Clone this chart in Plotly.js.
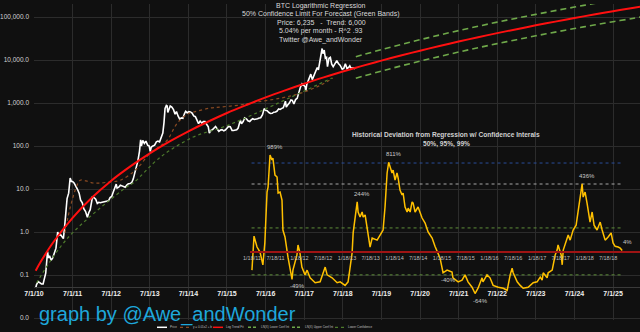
<!DOCTYPE html>
<html><head><meta charset="utf-8">
<script src="https://cdn.plot.ly/plotly-3.0.1.min.js"></script>
<style>html,body{margin:0;padding:0;background:#101010;}#chart{width:640px;height:332px;}</style>
</head><body><div id="chart"></div>
<script>
// ---------- main chart data ----------
const priceDates = ['2010-07-17','2010-07-25','2010-08-10','2010-08-25','2010-09-10','2010-09-25','2010-10-10','2010-10-20','2010-11-06','2010-11-15','2010-11-25','2010-12-10','2010-12-25','2011-01-10','2011-01-25','2011-02-10','2011-02-20','2011-03-05','2011-03-20','2011-04-05','2011-04-15','2011-04-28','2011-05-10','2011-05-25','2011-06-08','2011-06-20','2011-07-01','2011-07-15','2011-08-01','2011-08-15','2011-09-01','2011-09-15','2011-10-01','2011-10-15','2011-11-01','2011-11-18','2011-12-01','2011-12-15','2012-01-05','2012-01-20','2012-02-05','2012-02-20','2012-03-05','2012-03-20','2012-04-05','2012-04-20','2012-05-05','2012-05-20','2012-06-05','2012-06-20','2012-07-05','2012-07-20','2012-08-05','2012-08-17','2012-08-25','2012-09-10','2012-09-25','2012-10-10','2012-10-25','2012-11-10','2012-11-25','2012-12-10','2012-12-25','2013-01-10','2013-01-25','2013-02-10','2013-02-25','2013-03-10','2013-03-25','2013-04-05','2013-04-12','2013-04-25','2013-05-10','2013-05-25','2013-06-10','2013-06-25','2013-07-05','2013-07-15','2013-07-30','2013-08-15','2013-09-01','2013-09-15','2013-10-01','2013-10-15','2013-11-01','2013-11-12','2013-11-22','2013-12-04','2013-12-12','2013-12-18','2013-12-30','2014-01-10','2014-01-25','2014-02-10','2014-02-25','2014-03-10','2014-03-25','2014-04-10','2014-04-25','2014-05-10','2014-05-25','2014-06-05','2014-06-20','2014-07-05','2014-07-20','2014-08-05','2014-08-20','2014-09-05','2014-09-20','2014-10-05','2014-10-20','2014-11-05','2014-11-20','2014-12-05','2014-12-20','2015-01-05','2015-01-15','2015-01-30','2015-02-15','2015-03-01','2015-03-15','2015-04-01','2015-04-15','2015-05-01','2015-05-15','2015-06-01','2015-06-15','2015-07-01','2015-07-15','2015-08-01','2015-08-18','2015-09-01','2015-09-15','2015-10-01','2015-10-15','2015-11-04','2015-11-15','2015-12-01','2015-12-15','2016-01-01','2016-01-15','2016-02-01','2016-02-15','2016-03-01','2016-03-15','2016-04-01','2016-04-15','2016-05-01','2016-05-15','2016-06-01','2016-06-17','2016-07-01','2016-07-15','2016-08-01','2016-08-15','2016-09-01','2016-09-15','2016-10-01','2016-10-15','2016-11-01','2016-11-15','2016-12-01','2016-12-15','2017-01-04','2017-01-12','2017-01-25','2017-02-10','2017-02-25','2017-03-10','2017-03-25','2017-04-10','2017-04-25','2017-05-10','2017-05-25','2017-06-10','2017-06-25','2017-07-10','2017-07-16','2017-07-25','2017-08-10','2017-08-25','2017-09-01','2017-09-15','2017-10-01','2017-10-15','2017-11-01','2017-11-12','2017-11-26','2017-12-08','2017-12-17','2017-12-25','2018-01-06','2018-01-17','2018-01-28','2018-02-06','2018-02-20','2018-03-05','2018-03-18','2018-04-01','2018-04-12','2018-04-25','2018-05-05','2018-05-20','2018-06-05','2018-06-25','2018-07-10','2018-07-25','2018-08-10','2018-08-25','2018-09-05','2018-09-15','2018-10-01','2018-10-15','2018-10-25'];
const priceValues = [0.05,0.06,0.07,0.065,0.062,0.062,0.1,0.11,0.35,0.25,0.28,0.22,0.25,0.32,0.42,1.0,0.85,0.9,0.78,0.7,1.2,3.0,6,8,18,15,15,13.8,12,10,8,5.5,4.8,3.5,3.0,2.2,2.8,3.3,6.5,6.3,5.8,4.6,4.9,4.8,4.9,5.0,5.1,5.1,5.3,6.3,6.7,8.5,10.8,13,10.5,11,12.3,11.8,11,11,12.3,13.3,13.4,14,17,24,30,45,75,140,100,135,115,130,105,100,75,95,100,105,125,130,125,150,200,350,750,880,850,600,700,850,800,700,550,630,500,420,450,440,570,640,590,630,620,580,500,480,400,330,380,340,370,370,320,280,200,230,240,260,285,245,220,235,240,225,235,260,285,280,230,230,230,238,262,400,330,370,450,430,385,370,405,430,415,418,430,450,455,535,740,675,665,600,570,575,610,615,640,730,710,750,780,1100,800,900,1000,1180,1150,950,1200,1280,1750,2300,2800,2550,2400,1900,2700,3400,4300,4700,3500,4400,5700,6700,5900,9300,16000,18500,14000,17000,11000,11500,7000,11000,11500,8000,7000,7900,9300,9700,8300,7600,6100,6400,8200,6300,6700,7300,6500,6600,6500,6235];

const trendDates = ['2010-07-17','2010-09-01','2011-01-01','2011-07-01','2012-01-01','2012-07-01','2013-01-01','2013-07-01','2014-01-01','2014-07-01','2015-01-01','2015-07-01','2016-01-01','2016-07-01','2017-01-01','2017-07-01','2018-01-01','2018-07-01','2018-11-01','2019-01-01','2019-07-01','2020-01-01','2020-07-01','2021-01-01','2021-07-01','2022-01-01','2022-07-01','2023-01-01','2023-07-01','2024-01-01','2024-07-01','2025-01-01','2025-07-01','2026-01-01','2026-04-01'];
const trendValues = [0.126,0.20,0.585,2.14,6.32,15.6,34.0,67.5,126,219,366,585,900,1349,1972,2811,3934,5395,6622,7290,9680,12740,16480,21180,26850,33830,42170,52120,63970,78140,94630,114300,136100,162600,177000];

const smaDates = ['2011-04-20','2011-05-18','2011-06-27','2011-08-13','2011-09-11','2011-11-06','2012-01-12','2012-03-17','2012-06-20','2012-09-24','2013-01-25','2013-04-01','2013-07-05','2013-10-09','2013-12-14','2014-03-19','2014-06-22','2014-08-17','2015-01-26','2015-05-01','2015-11-06','2016-02-09','2016-11-21','2017-05-30','2017-12-04','2018-03-28'];
const smaValues = [0.95,2.2,5.5,12.4,16,15.4,13.8,13.8,14.6,16,24.8,36,69,100,138,343,555,615,765,807,900,1000,1300,1700,2600,3800];

const lowerConfDates = ['2010-07-25','2011-05-15','2012-11-25','2013-01-25','2013-10-09','2014-08-17','2015-05-01','2015-11-06','2018-03-20'];
const lowerConfValues = [0.065,0.72,11.2,13.8,55,162,263,400,3800];

const bandDates = ['2018-11-01','2019-01-01','2019-07-01','2020-01-01','2020-07-01','2021-01-01','2021-07-01','2022-01-01','2022-07-01','2023-01-01','2023-07-01','2024-01-01','2024-07-01','2025-01-01','2025-07-01','2026-01-01','2026-04-01'];
const bandUpper = [11900,13120,17420,22930,29660,38120,48330,60890,75900,93820,115100,140700,170300,205700,245000,292700,318600];
const bandLower = [3775,4155,5520,7260,9390,12070,15300,19280,24040,29710,36460,44540,53940,65150,77580,92680,100900];

const yTickVals = [0.01,0.1,1,10,100,1000,10000,100000];
const yTickText = ['0.0','0.1','1.0','10.0','100.0','1,000.0','10,000.0','100,000.0'];

const seriesNames = ['Price','y = 0.01x2 + b','Log Trend Fit','LN(X) Lower Conf Int','LN(X) Upper Conf Int','Lower Confidence'];

const titleLines = ['BTC Logarithmic Regression','50% Confidence Limit For Forecast (Green Bands)','Price: 6,235   -  Trend: 6,000','5.04% per month - R^2 .93','Twitter @Awe_andWonder'];

// ---------- inset: deviation from regression ----------
const devDates = ['2011-01-18','2011-02-03','2011-02-26','2011-03-21','2011-04-12','2011-04-27','2011-05-14','2011-05-22','2011-06-06','2011-06-21','2011-06-28','2011-07-14','2011-07-30','2011-08-07','2011-08-22','2011-09-06','2011-09-13','2011-09-29','2011-10-22','2011-11-22','2011-11-29','2011-12-30','2012-01-07','2012-01-22','2012-02-06','2012-03-01','2012-03-17','2012-04-09','2012-05-18','2012-06-25','2012-08-03','2012-08-18','2012-09-25','2012-11-03','2012-11-26','2013-01-03','2013-01-26','2013-02-26','2013-03-06','2013-03-21','2013-04-06','2013-04-13','2013-04-28','2013-05-14','2013-05-22','2013-06-06','2013-06-21','2013-07-14','2013-07-30','2013-09-06','2013-09-29','2013-10-22','2013-11-06','2013-11-22','2013-12-04','2013-12-30','2014-01-07','2014-01-22','2014-02-06','2014-02-15','2014-03-01','2014-03-17','2014-03-25','2014-04-09','2014-04-25','2014-05-03','2014-05-18','2014-06-02','2014-06-10','2014-06-25','2014-07-18','2014-08-18','2014-09-10','2014-10-03','2014-11-03','2014-11-25','2015-01-03','2015-01-26','2015-02-26','2015-04-05','2015-04-12','2015-05-22','2015-06-21','2015-07-14','2015-08-06','2015-09-06','2015-09-29','2015-10-22','2015-11-22','2015-11-29','2015-12-30','2016-01-22','2016-02-15','2016-03-25','2016-05-03','2016-06-02','2016-06-25','2016-07-10','2016-07-18','2016-08-18','2016-09-10','2016-10-03','2016-11-10','2016-12-19','2017-01-18','2017-02-11','2017-02-26','2017-03-06','2017-04-05','2017-04-13','2017-05-14','2017-06-06','2017-06-21','2017-06-28','2017-07-22','2017-07-30','2017-08-07','2017-08-30','2017-09-14','2017-09-29','2017-10-22','2017-11-14','2017-11-22','2017-12-07','2017-12-30','2018-01-07','2018-01-22','2018-02-06','2018-02-15','2018-03-01','2018-03-17','2018-04-01','2018-04-24','2018-05-18','2018-06-02','2018-06-25','2018-07-18','2018-08-10','2018-08-25','2018-09-10','2018-10-03','2018-10-19','2018-11-03'];
const devPct = [-36,48,13,0,-27,25,338,395,989,864,912,566,534,328,338,260,72,45,-12,-49,-36,-7,19,-2,-31,-43,-36,-47,-53,-52,-31,-43,-47,-53,-52,-56,-52,-2,60,120,244,168,137,168,137,149,81,13,41,34,52,72,203,600,811,600,653,489,600,518,360,307,328,203,168,195,168,243,234,168,203,131,104,64,41,15,-14,-40,-36,-39,-47,-52,-50,-43,-52,-58,-64,-59,-47,-52,-43,-47,-56,-58,-59,-61,-43,-33,-40,-52,-56,-59,-58,-53,-52,-46,-50,-40,-47,-40,-36,-7,5,19,-7,-27,5,34,52,34,72,94,137,234,436,287,338,234,181,109,168,94,72,109,72,34,45,60,25,15,13,10,4];
const labeledPct = [989,-49,244,811,-40,-64,436,4];

const confDates = ['2011-01-15','2018-11-05'];
const confNames = ['99%','95%','50% upper','50% lower'];
const confPct = [795,434,81,-43];

const insetTitle = ['Historical Deviation from Regression w/ Confidence Interals','50%, 95%, 99%'];

// ---------- styles ----------
const F = 'Liberation Sans, Arial, sans-serif';
const W = 640, H = 332;
const seriesLines = [
  {color:'#ffffff', width:1.6},
  {color:'#8a4a22', width:1.2, dash:'dot', shape:'spline'},
  {color:'#ff1010', width:2, shape:'spline'},
  {color:'#6fa84a', width:1.6, dash:'6px,4px', shape:'spline'},
  {color:'#6fa84a', width:1.6, dash:'6px,4px', shape:'spline'},
  {color:'#4d7a2c', width:1.2, dash:'dot', shape:'spline'}
];
const confColors = ['#2a4d9a','#a6a6a6','#5f8f3a','#5f8f3a'];
// legend layout (pixel x of swatch start, swatch length)
const legendX = [157,180,213,248,292,335];
const legendSwatch = 10, legendY = 327.3;

// ---------- build ----------
const toRatio = p => 1 + p/100;
const mainX = [priceDates, smaDates, trendDates, bandDates, bandDates, lowerConfDates];
const mainY = [priceValues, smaValues, trendValues, bandLower, bandUpper, lowerConfValues];
const traces = mainX.map((xs,i) => ({x: xs, y: mainY[i], name: seriesNames[i], type:'scatter', mode:'lines', showlegend:false, line: seriesLines[i]}));
confPct.forEach((p,i) => traces.push({x: confDates, y: confDates.map(() => toRatio(p)), name: confNames[i], xaxis:'x2', yaxis:'y2', type:'scatter', mode:'lines', showlegend:false, line:{color:confColors[i], width:1, dash:'dot'}}));
traces.push({x: devDates, y: devPct.map(toRatio), name:'Deviation', xaxis:'x2', yaxis:'y2', type:'scatter', mode:'lines', showlegend:false, line:{color:'#ffc000', width:1.5}});

const annotations = [];
const shapes = [];
const titleY = [6, 14.5, 23, 31.5, 39.5];
titleLines.forEach((t,i) => annotations.push({text:t, xref:'paper', yref:'paper', x:321/W, y:1-titleY[i]/H, xanchor:'center', yanchor:'middle', showarrow:false, font:{family:F, size:7, color:'#d9d9d9'}}));
const insetTitleY = [135, 143.5];
insetTitle.forEach((t,i) => annotations.push({text:'<b>'+t+'</b>', xref:'paper', yref:'paper', x:446/W, y:1-insetTitleY[i]/H, xanchor:'center', yanchor:'middle', showarrow:false, font:{family:F, size:6.6, color:'#d0d0d0'}}));
labeledPct.forEach(p => {
  const i = devPct.indexOf(p);
  annotations.push({text: p+'%', xref:'x2', yref:'y2', x: devDates[i], y: Math.log10(toRatio(p)), showarrow:false, xanchor:'center', yanchor:'middle', xshift:5, yshift: p>=0 ? 8 : -7, font:{family:F, size:6, color:'#c8c8c8'}});
});
annotations.push({text:'graph by @Awe_andWonder', xref:'paper', yref:'paper', x:37/W, y:1-314/H, xanchor:'left', yanchor:'middle', showarrow:false, font:{family:F, size:20, color:'#1ea7db'}});
// manual legend
seriesNames.forEach((n,i) => {
  const st = seriesLines[i];
  shapes.push({type:'line', xref:'paper', yref:'paper', x0:legendX[i]/W, x1:(legendX[i]+legendSwatch)/W, y0:1-legendY/H, y1:1-legendY/H, line:{color:st.color, width:Math.min(st.width,1.5), dash: st.dash ? (st.dash==='dot'?'dot':'3px,2px') : 'solid'}});
  annotations.push({text:n, xref:'paper', yref:'paper', x:(legendX[i]+legendSwatch+1)/W, y:1-legendY/H, xanchor:'left', yanchor:'middle', showarrow:false, font:{family:F, size:3, color:'#bfbfbf'}});
});

const layout = {
  width: W, height: H,
  margin:{l:0, r:0, t:0, b:0},
  paper_bgcolor:'#101010', plot_bgcolor:'rgba(0,0,0,0)',
  font:{family:F, color:'#d0d0d0'},
  showlegend:false,
  xaxis:{type:'date', domain:[34/W, 1], range:['2010-07-01','2026-03-13'], anchor:'free', position:1-287/H,
    tick0:'2010-07-01', dtick:'M12', tickformat:'%-m/%-d/%y', showgrid:true, gridcolor:'#2c2c2c', gridwidth:1,
    showline:true, linecolor:'#3a3a3a', linewidth:1, ticks:'', zeroline:false,
    tickfont:{family:F, size:7, color:'#eeeeee', weight:'bold'}},
  yaxis:{type:'log', domain:[(H-320.15)/H, 1-4.1/H], range:[-2.05, 5.3], anchor:'x',
    tickvals:yTickVals, ticktext:yTickText, showgrid:true, gridcolor:'#2c2c2c', gridwidth:1, zeroline:false, showline:false,
    ticks:'', ticklabelstandoff:4, tickfont:{family:F, size:6.5, color:'#d0d0d0'}},
  xaxis2:{type:'date', domain:[250/W, 1], range:['2011-01-03','2019-03-20'], anchor:'free', position:1-252/H,
    tick0:'2011-01-18', dtick:'M6', tickformat:'%-m/%-d/%y', showgrid:false, zeroline:false,
    showline:true, linecolor:'#9e1414', linewidth:2, ticks:'', tickfont:{family:F, size:5.5, color:'#bdbdbd'}},
  yaxis2:{type:'log', domain:[1-300/H, 1-130/H], range:[-0.513, 1.305], anchor:'x2', showgrid:false, zeroline:false, showline:false, showticklabels:false, ticks:''},
  annotations: annotations,
  shapes: shapes
};
Plotly.newPlot('chart', traces, layout, {staticPlot:true, displayModeBar:false});
</script>
</body></html>
